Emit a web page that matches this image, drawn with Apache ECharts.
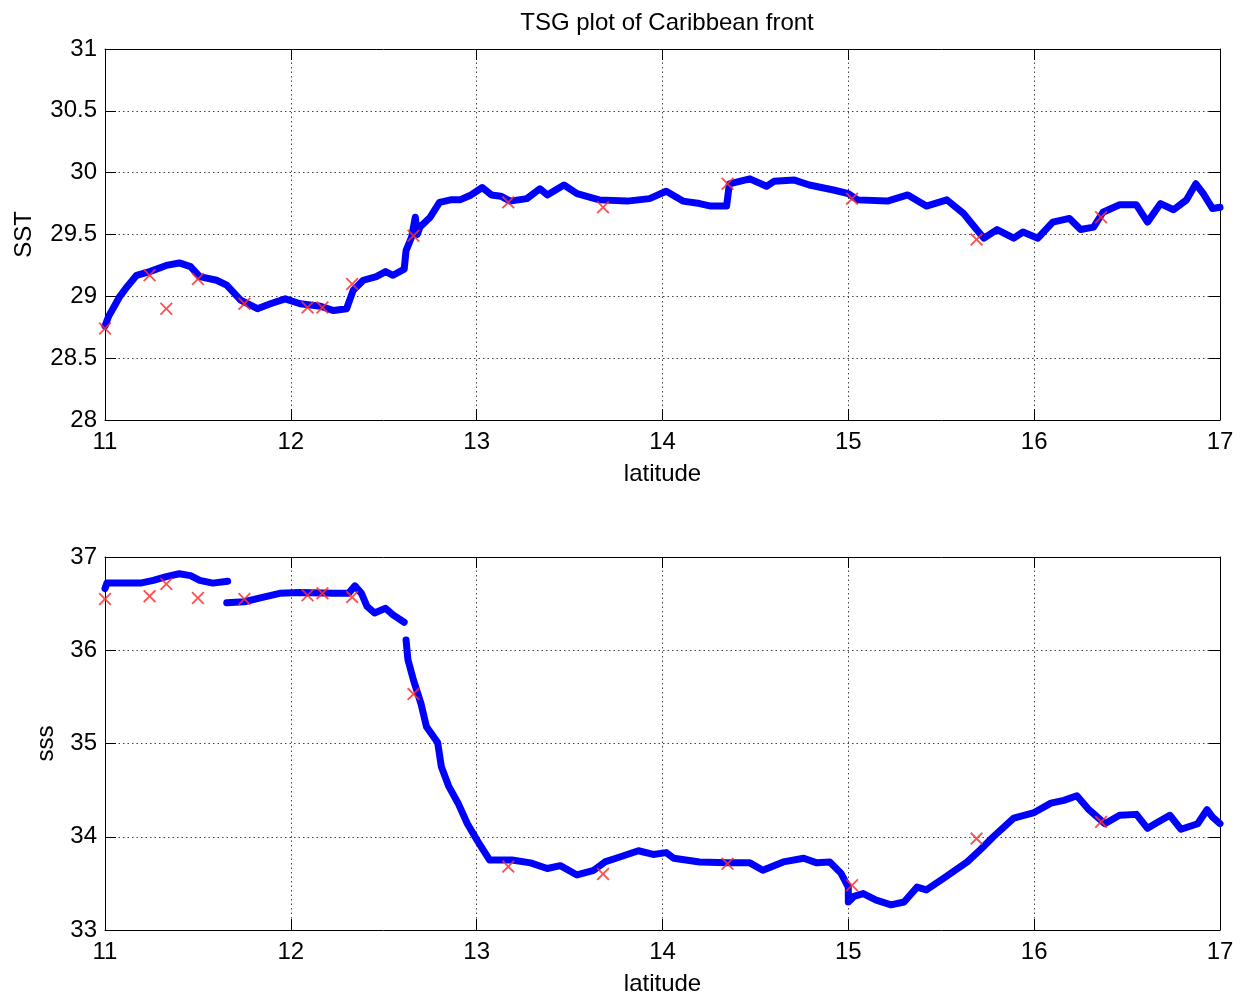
<!DOCTYPE html>
<html>
<head>
<meta charset="utf-8">
<script src="https://cdn.jsdelivr.net/npm/echarts@6/dist/echarts.min.js"></script>
<style>html,body{margin:0;padding:0;background:#fff}#c{width:1240px;height:992px}</style>
</head>
<body>
<div id="c"></div>
<script>
// ---- data ----
const xTicks = [11, 12, 13, 14, 15, 16, 17];
const sstLat = [11.00,11.02,11.05,11.08,11.12,11.17,11.24,11.33,11.40,11.46,11.51,11.60,11.655,11.73,11.82,11.89,11.97,12.05,12.16,12.23,12.30,12.336,12.39,12.46,12.51,12.55,12.61,12.62,12.65,12.67,12.68,12.695,12.75,12.80,12.86,12.91,12.97,13.03,13.08,13.13,13.18,13.27,13.34,13.38,13.47,13.54,13.66,13.81,13.93,14.02,14.11,14.20,14.26,14.345,14.36,14.47,14.56,14.60,14.71,14.79,14.92,15.00,15.05,15.21,15.32,15.42,15.53,15.62,15.69,15.73,15.80,15.89,15.94,16.02,16.10,16.19,16.25,16.32,16.37,16.46,16.55,16.61,16.68,16.75,16.82,16.87,16.91,16.96,17.00];
const sstVal = [28.76,28.84,28.92,29.00,29.08,29.17,29.20,29.25,29.27,29.24,29.16,29.13,29.09,28.97,28.90,28.94,28.98,28.94,28.92,28.885,28.90,29.05,29.13,29.16,29.20,29.17,29.22,29.37,29.48,29.64,29.50,29.56,29.64,29.76,29.78,29.78,29.82,29.88,29.82,29.81,29.77,29.79,29.87,29.82,29.90,29.83,29.78,29.77,29.79,29.85,29.77,29.75,29.73,29.73,29.91,29.95,29.89,29.93,29.94,29.90,29.86,29.83,29.78,29.77,29.82,29.73,29.78,29.67,29.54,29.47,29.54,29.47,29.52,29.47,29.60,29.63,29.54,29.56,29.68,29.74,29.74,29.60,29.75,29.70,29.78,29.91,29.83,29.71,29.72];

const sssLat1 = [11.00,11.01,11.08,11.19,11.26,11.33,11.40,11.46,11.51,11.58,11.66];
const sssVal1 = [36.66,36.72,36.72,36.72,36.75,36.79,36.82,36.80,36.75,36.72,36.74];
const sssLat2 = [11.655,11.75,11.83,11.94,12.05,12.23,12.31,12.345,12.38,12.41,12.45,12.51,12.55,12.61];
const sssVal2 = [36.51,36.52,36.56,36.61,36.62,36.61,36.61,36.69,36.61,36.47,36.40,36.45,36.38,36.30];
const sssLat3 = [12.62,12.63,12.66,12.70,12.73,12.79,12.81,12.85,12.90,12.95,13.00,13.07,13.19,13.29,13.38,13.45,13.54,13.63,13.69,13.75,13.87,13.95,14.02,14.06,14.20,14.35,14.47,14.54,14.65,14.76,14.83,14.90,14.96,15.00,15.00,15.03,15.08,15.15,15.23,15.30,15.37,15.42,15.51,15.64,15.71,15.78,15.89,16.00,16.09,16.16,16.23,16.29,16.38,16.46,16.55,16.61,16.66,16.73,16.79,16.88,16.93,16.96,17.00];
const sssVal3 = [36.11,35.90,35.68,35.43,35.18,35.01,34.75,34.54,34.36,34.14,33.97,33.75,33.75,33.72,33.66,33.69,33.59,33.64,33.73,33.77,33.85,33.81,33.83,33.77,33.73,33.72,33.72,33.64,33.73,33.77,33.72,33.73,33.61,33.46,33.30,33.36,33.39,33.32,33.27,33.30,33.46,33.43,33.55,33.73,33.86,34.00,34.20,34.26,34.36,34.39,34.44,34.30,34.14,34.23,34.24,34.09,34.15,34.23,34.08,34.14,34.29,34.21,34.14];

const crossLat = [11.00,11.24,11.33,11.50,11.75,12.09,12.17,12.33,12.66,13.17,13.68,14.35,15.02,15.69,16.36];
const crossSST = [28.74,29.17,28.90,29.14,28.94,28.91,28.91,29.10,29.49,29.76,29.72,29.91,29.79,29.46,29.64];
const crossSSS = [36.55,36.58,36.71,36.56,36.55,36.59,36.61,36.57,35.53,33.68,33.60,33.71,33.48,33.98,34.16];

// ---- helpers ----
const zip = (a, b) => a.map((v, i) => [v, b[i]]);
const FONT = 'Liberation Sans, Arial, Helvetica, sans-serif';
const FS = 24;
const BLUE = '#0000ff';
const RED = '#ff3030';
const XPATH = 'path://M0,1L1,0L5,4L9,0L10,1L6,5L10,9L9,10L5,6L1,10L0,9L4,5Z';

function xAxes(gi, name) {
  return [
    { type: 'value', gridIndex: gi, min: 11, max: 17, interval: 1, position: 'bottom',
      name: name, nameLocation: 'middle', nameGap: 42,
      nameTextStyle: { fontFamily: FONT, fontSize: FS, color: '#000' },
      axisLine: { show: true, onZero: false, lineStyle: { color: '#000', width: 1 } },
      axisTick: { show: true, inside: true, length: 11, lineStyle: { color: '#000' } },
      axisLabel: { fontFamily: FONT, fontSize: FS, color: '#000', margin: 10 },
      splitLine: { show: true, lineStyle: { color: '#444', type: [1.5, 3], width: 1 } } },
    { type: 'value', gridIndex: gi, min: 11, max: 17, interval: 1, position: 'top',
      axisLine: { show: true, onZero: false, lineStyle: { color: '#000', width: 1 } },
      axisTick: { show: true, inside: true, length: 11, lineStyle: { color: '#000' } },
      axisLabel: { show: false }, splitLine: { show: false } }
  ];
}
function yAxes(gi, min, max, interval, name, gap) {
  return [
    { type: 'value', gridIndex: gi, min: min, max: max, interval: interval, position: 'left',
      name: name, nameLocation: 'middle', nameGap: gap, nameRotate: 90,
      nameTextStyle: { fontFamily: FONT, fontSize: FS, color: '#000' },
      axisLine: { show: true, onZero: false, lineStyle: { color: '#000', width: 1 } },
      axisTick: { show: true, inside: true, length: 11, lineStyle: { color: '#000' } },
      axisLabel: { fontFamily: FONT, fontSize: FS, color: '#000', margin: 8 },
      splitLine: { show: true, lineStyle: { color: '#444', type: [1.5, 3], width: 1 } } },
    { type: 'value', gridIndex: gi, min: min, max: max, interval: interval, position: 'right',
      axisLine: { show: true, onZero: false, lineStyle: { color: '#000', width: 1 } },
      axisTick: { show: true, inside: true, length: 11, lineStyle: { color: '#000' } },
      axisLabel: { show: false }, splitLine: { show: false } }
  ];
}
function curve(xi, yi, lat, val) {
  return { type: 'line', xAxisIndex: xi, yAxisIndex: yi, data: zip(lat, val),
    symbol: 'none', smooth: false, clip: false, z: 2,
    lineStyle: { color: BLUE, width: 7, join: 'round', cap: 'round' } };
}
function crosses(xi, yi, val) {
  return { type: 'scatter', xAxisIndex: xi, yAxisIndex: yi, data: zip(crossLat, val),
    symbol: XPATH, symbolSize: 13, clip: false, z: 5,
    itemStyle: { color: RED, opacity: 0.85 } };
}

const chart = echarts.init(document.getElementById('c'), null, { renderer: 'canvas' });
chart.setOption({
  backgroundColor: '#fff',
  animation: false,
  title: { text: 'TSG plot of Caribbean front', left: 662, top: 6, textAlign: 'center',
    textStyle: { fontFamily: FONT, fontSize: FS, fontWeight: 'normal', color: '#000' } },
  grid: [
    { left: 105, top: 49, width: 1115, height: 371, containLabel: false, outerBoundsMode: 'none' },
    { left: 105, top: 557, width: 1115, height: 373, containLabel: false, outerBoundsMode: 'none' }
  ],
  xAxis: [...xAxes(0, 'latitude'), ...xAxes(1, 'latitude')],
  yAxis: [...yAxes(0, 28, 31, 0.5, 'SST', 69), ...yAxes(1, 33, 37, 1, 'sss', 47)],
  series: [
    curve(0, 0, sstLat, sstVal),
    crosses(0, 0, crossSST),
    curve(2, 2, sssLat1, sssVal1),
    curve(2, 2, sssLat2, sssVal2),
    curve(2, 2, sssLat3, sssVal3),
    crosses(2, 2, crossSSS)
  ]
});
</script>
</body>
</html>
